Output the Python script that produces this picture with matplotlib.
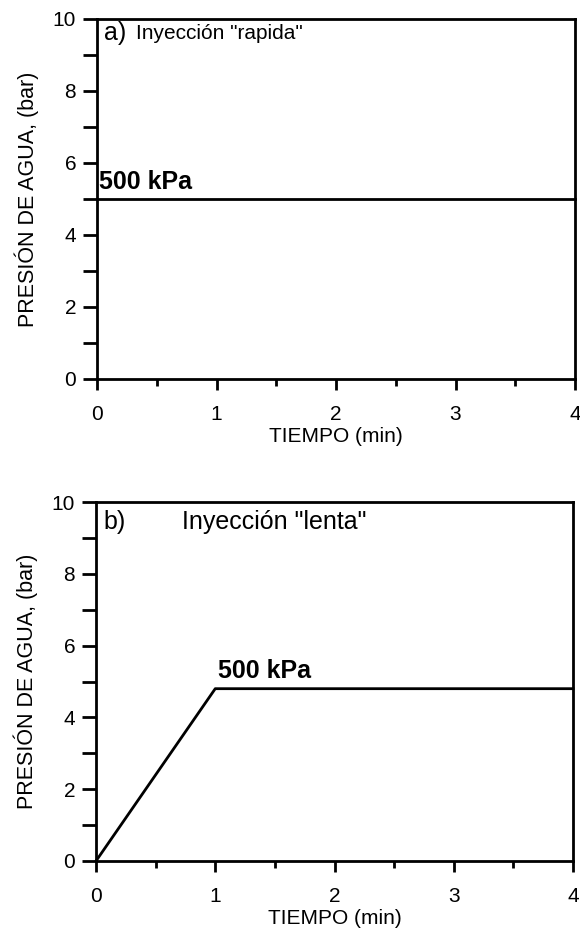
import matplotlib
matplotlib.use("Agg")
import matplotlib.pyplot as plt
from matplotlib.ticker import MultipleLocator

plt.rcParams['font.family'] = ['Liberation Sans', 'DejaVu Sans']

# data
t_fast = [0, 4]
p_fast = [5.0, 5.0]
t_slow = [0, 1, 4]
p_slow = [0.0, 4.8, 4.8]
xticks = [0, 1, 2, 3, 4]
yticks = [0, 2, 4, 6, 8, 10]
xlabel = "TIEMPO (min)"
ylabel = "PRESIÓN DE AGUA, (bar)"

W, H = 580, 935
fig = plt.figure(figsize=(W/100, H/100), dpi=100)

def make_ax(left, top, right, bottom):
    return fig.add_axes([left/W, 1-bottom/H, (right-left)/W, (bottom-top)/H])

ax1 = make_ax(97, 19, 575, 379)
ax2 = make_ax(96, 502, 573, 861)

for ax in (ax1, ax2):
    ax.set_xlim(0, 4)
    ax.set_ylim(0, 10)
    ax.set_xticks(xticks)
    ax.set_yticks(yticks)
    ax.xaxis.set_minor_locator(MultipleLocator(0.5))
    ax.yaxis.set_minor_locator(MultipleLocator(1))
    for s in ax.spines.values():
        s.set_linewidth(2)
        s.set_zorder(3)
    ax.tick_params(axis='x', which='major', direction='out', length=8, width=2, labelsize=15, pad=11)
    ax.tick_params(axis='x', which='minor', direction='out', length=5, width=2)
    ax.tick_params(axis='y', which='both', direction='out', length=10, width=2, labelsize=15, pad=5)
    ax.set_xlabel(xlabel, fontsize=15, labelpad=2)
    ax.set_ylabel(ylabel, fontsize=15.5, labelpad=10)

ax1.plot(t_fast, p_fast, color='black', lw=2, clip_on=False)
ax1.text(0.06, 9.6, "a)", fontsize=18, va='center', ha='left')
ax1.text(0.33, 9.6, 'Inyección "rapida"', fontsize=15, va='center', ha='left')
ax1.text(0.02, 5.15, "500 kPa", fontsize=18, fontweight='bold', va='bottom', ha='left')

ax2.plot(t_slow, p_slow, color='black', lw=2, clip_on=False)
ax2.text(0.06, 9.45, "b)", fontsize=18, va='center', ha='left')
ax2.text(0.72, 9.45, 'Inyección "lenta"', fontsize=18, va='center', ha='left')
ax2.text(1.02, 4.95, "500 kPa", fontsize=18, fontweight='bold', va='bottom', ha='left')

fig.savefig("out.png", dpi=100)
